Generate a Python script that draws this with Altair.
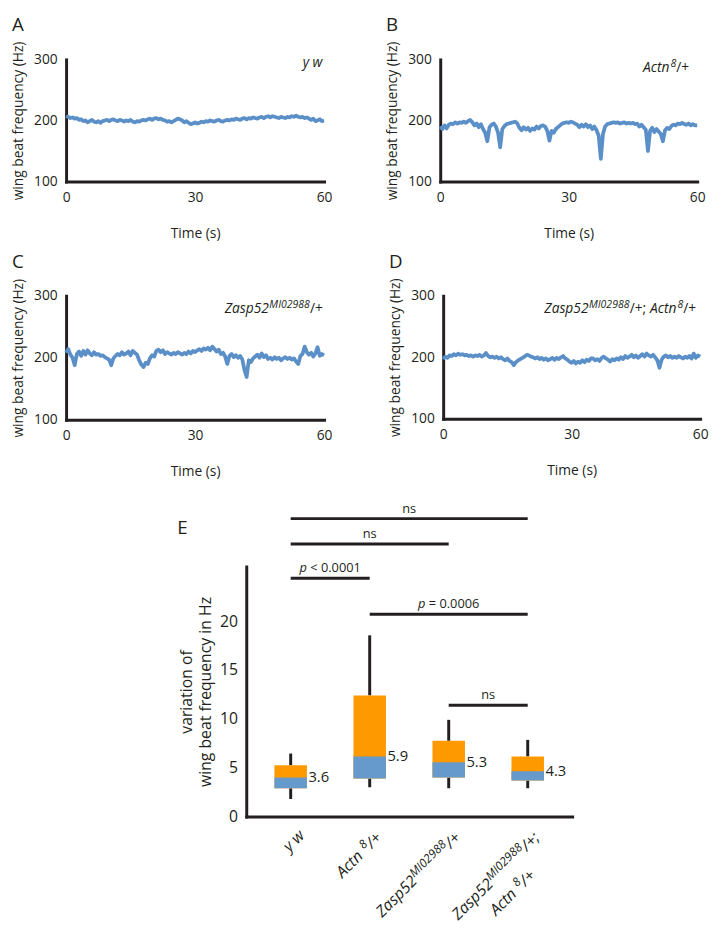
import altair as alt
import pandas as pd

FONT = "Open Sans"
INK = "#231f20"
LINE_BLUE = "#5b8fc8"
BOX_BLUE = "#6699cc"
BOX_ORANGE = "#ff9900"

# ---------------- traces (panels A-D) ----------------
TIME_S = [i * 0.5 for i in range(121)]

FREQ_YW = [
    207, 206, 204, 205, 203, 204, 201, 202, 199, 200,
    197, 199, 201, 198, 197, 199, 196, 199, 200, 201,
    199, 201, 202, 200, 199, 201, 200, 198, 200, 199,
    201, 198, 197, 199, 198, 200, 201, 200, 202, 203,
    201, 203, 204, 202, 203, 201, 200, 198, 199, 197,
    199, 201, 203, 202, 200, 197, 199, 196, 194, 195,
    197, 195, 196, 198, 197, 199, 198, 200, 199, 198,
    200, 201, 199, 198, 200, 201, 200, 202, 201, 203,
    202, 201, 203, 204, 202, 204, 203, 205, 204, 203,
    205, 206, 204, 206, 207, 205, 207, 206, 205, 204,
    206, 205, 204, 206, 205, 207, 206, 208, 206, 205,
    206, 204, 205, 203, 201, 203, 199, 200, 202, 199,
    200,
]

FREQ_ACTN = [
    190, 186, 192, 187, 193, 195, 194, 197, 195, 197,
    196, 198, 196, 199, 201, 197, 192, 195, 189, 194,
    186, 180, 166, 189, 193, 195, 190, 180, 156, 186,
    191, 194, 195, 196, 197, 198, 195, 188, 184, 189,
    185, 188, 183, 187, 185, 190, 187, 191, 192, 190,
    183, 167, 183, 180, 186, 189, 192, 195, 196, 197,
    196, 198, 197, 195, 193, 189, 193, 190, 194, 189,
    192, 186, 190, 184, 175, 137, 178, 190, 194, 195,
    196, 197, 196, 197, 195, 196, 197, 195, 196, 195,
    196, 194, 195, 190, 193, 189, 185, 150, 183, 188,
    181, 186, 182, 178, 166, 184, 188, 186, 191, 193,
    192, 195, 194, 196, 194, 193, 195, 192, 194, 192,
    192,
]

FREQ_ZASP = [
    208, 214, 205, 200, 188, 206, 210, 203, 211, 205,
    212, 207, 204, 209, 205, 206, 203, 204, 201, 199,
    197, 188, 199, 203, 206, 204, 209, 205, 207, 210,
    204, 211, 208, 205, 196, 189, 185, 192, 190, 199,
    204, 202, 211, 213, 209, 212, 206, 209, 207, 205,
    208, 206, 209, 207, 205, 208, 206, 210, 207, 211,
    209, 212, 214, 211, 215, 213, 216, 212, 218, 214,
    210, 213, 206, 208, 202, 190, 203, 206, 201, 204,
    200, 203, 197, 180, 169, 196, 193, 199, 202, 205,
    200, 207, 201, 204, 198, 200, 197, 201, 198, 200,
    196, 199, 201, 198, 200, 197, 199, 194, 190, 203,
    206, 218, 209, 205, 208, 202, 207, 217, 203, 206,
    204,
]

FREQ_ZASP_ACTN = [
    197, 201, 199, 203, 202, 205, 203, 206, 204, 205,
    203, 204, 202, 203, 201, 203, 202, 204, 201, 203,
    207, 202, 200, 201, 199, 201, 198, 200, 197, 195,
    198, 194, 192, 187, 192, 195, 197, 199, 201, 204,
    203, 201, 200, 198, 200, 197, 199, 196, 198, 195,
    197, 199, 196, 199, 197, 200, 202, 198, 196, 193,
    191, 194, 190, 193, 191, 195, 192, 196, 194, 198,
    198, 195, 197, 194, 199, 201, 198, 196, 193, 197,
    195, 198, 196, 200, 197, 202, 199, 201, 204, 200,
    203, 199, 202, 205, 201, 206, 203, 201, 204, 200,
    195, 183, 196, 201, 203, 200, 202, 199, 201, 199,
    202, 200, 198, 201, 199, 202, 198, 206, 199, 203,
    201,
]

TIME_TICKS = [0, 30, 60]
FREQ_TICKS = [100, 200, 300]
PANEL_LETTERS = ["A", "B", "C", "D"]
# genotype labels: (text, style) with style it = italic, sup = superscript, rm = upright
PANEL_GENOTYPES = [
    [("y w", "it")],
    [("Actn", "it"), ("8", "sup"), ("/+", "rm")],
    [("Zasp52", "it"), ("MI02988", "sup"), ("/+", "rm")],
    [("Zasp52", "it"), ("MI02988", "sup"), ("/+; ", "rm"), ("Actn", "it"), ("8", "sup"), ("/+", "rm")],
]

# ---------------- panel E ----------------
CATEGORY_LABELS = [
    [[("y w", "it")]],
    [[("Actn ", "it"), ("8", "sup"), (" /+", "it")]],
    [[("Zasp52", "it"), ("MI02988", "sup"), (" /+", "it")]],
    [[("Zasp52", "it"), ("MI02988", "sup"), (" /+;", "it")],
     [("Actn ", "it"), ("8", "sup"), (" /+", "it")]],
]
WHISKER_LOW = [1.8, 3.0, 2.9, 2.9]
BOX_Q1 = [2.9, 3.9, 4.0, 3.7]
BOX_MEDIAN = [4.0, 6.15, 5.55, 4.65]
BOX_Q3 = [5.25, 12.4, 7.75, 6.15]
WHISKER_HIGH = [6.45, 18.55, 9.9, 7.85]
MEDIAN_LABELS = ["3.6", "5.9", "5.3", "4.3"]
E_TICKS = [0, 5, 10, 15, 20]

SIG_FROM = [0, 0, 0, 1, 2]
SIG_TO = [3, 2, 1, 3, 3]
SIG_LEVEL = [30.5, 27.9, 24.4, 20.7, 11.4]
SIG_TEXT = ["ns", "ns", "p < 0.0001", "p = 0.0006", "ns"]

# approximate Open Sans advance widths (em) used only to place text pieces
ADV = {' ': 0.26, '/': 0.37, '+': 0.572, ';': 0.27, '.': 0.266, '<': 0.572, '=': 0.572,
       'A': 0.633, 'I': 0.297, 'M': 0.89, 'Z': 0.576, 'a': 0.556, 'c': 0.478, 'n': 0.614,
       'p': 0.613, 's': 0.487, 't': 0.351, 'w': 0.78, 'y': 0.5}


def text_width(s, size, italic):
    return sum(ADV.get(c, 0.572) for c in s) * size * (0.96 if italic else 1.0)


def piece_props(style, base):
    if style == "sup":
        return base * 0.76, "italic", base * 0.36
    if style == "it":
        return base, "italic", 0.0
    return base, "normal", 0.0


def line_width(parts, base):
    tot = 0.0
    for s, st in parts:
        size, fs, _ = piece_props(st, base)
        tot += text_width(s, size, fs == "italic")
    return tot


def trace_panel(values, genotype, letter, w, h, right_dx, base_dy):
    df = pd.DataFrame({"t": TIME_S, "f": values})
    line = alt.Chart(df).mark_line(
        color=LINE_BLUE, strokeWidth=3.8, strokeJoin="round"
    ).encode(
        x=alt.X("t:Q", scale=alt.Scale(domain=[0, 60], nice=False, zero=False),
                axis=alt.Axis(values=TIME_TICKS, title="Time (s)", labelFontSize=14,
                              titleFontSize=14, labelPadding=9, titlePadding=23)),
        y=alt.Y("f:Q", scale=alt.Scale(domain=[100, 300], nice=False, zero=False),
                axis=alt.Axis(values=FREQ_TICKS, title="wing beat frequency (Hz)",
                              labelFontSize=14, titleFontSize=14, labelPadding=9,
                              titlePadding=8)),
    )
    layers = [line]
    base = 14
    x0 = w + right_dx - line_width(genotype, base)
    for s, st in genotype:
        size, fs, raise_ = piece_props(st, base)
        layers.append(
            alt.Chart(pd.DataFrame({"g": [s]})).mark_text(
                align="left", baseline="alphabetic", fontStyle=fs, fontSize=size,
                dx=x0 - w, dy=base_dy - raise_
            ).encode(x=alt.value(w), y=alt.value(0), text="g:N")
        )
        x0 += text_width(s, size, fs == "italic")
    return alt.layer(*layers).properties(
        width=w, height=h,
        title=alt.TitleParams(letter, anchor="start", frame="bounds", fontSize=19,
                              fontWeight="normal", offset=6),
    )


pA = trace_panel(FREQ_YW, PANEL_GENOTYPES[0], PANEL_LETTERS[0], 262, 124, -1, 8)
pB = trace_panel(FREQ_ACTN, PANEL_GENOTYPES[1], PANEL_LETTERS[1], 261, 124, -8, 13)
pC = trace_panel(FREQ_ZASP, PANEL_GENOTYPES[2], PANEL_LETTERS[2], 262, 126, -1, 18)
pD = trace_panel(FREQ_ZASP_ACTN, PANEL_GENOTYPES[3], PANEL_LETTERS[3], 261, 125, -4, 18)

# ----- E chart -----
EW, EH = 331, 254
box_df = pd.DataFrame({
    "pos": list(range(len(CATEGORY_LABELS))),
    "lo": WHISKER_LOW, "q1": BOX_Q1, "med": BOX_MEDIAN, "q3": BOX_Q3,
    "hi": WHISKER_HIGH, "mlab": MEDIAN_LABELS,
})
sig_df = pd.DataFrame({"x1": SIG_FROM, "x2": SIG_TO, "y": SIG_LEVEL, "text": SIG_TEXT})
sig_df["mid"] = (sig_df["x1"] + sig_df["x2"]) / 2

xs = alt.Scale(domain=[-0.5, 3.5], nice=False, zero=False)
ys = alt.Scale(domain=[0, 25.6], nice=False, zero=False)
x_axis = alt.Axis(labels=False, ticks=False, grid=False, title=None)
y_axis = alt.Axis(values=E_TICKS, title=["variation of", "wing beat frequency in Hz"],
                  labelFontSize=16, titleFontSize=16, titleLineHeight=19,
                  labelPadding=9, titlePadding=6)


def EX(field):
    return alt.X(field, type="quantitative", scale=xs, axis=x_axis)


def EY(field):
    return alt.Y(field, type="quantitative", scale=ys, axis=y_axis)


base = alt.Chart(box_df)
e_layers = [
    base.mark_rule(color=INK, strokeWidth=3).encode(x=EX("pos"), y=EY("lo"), y2="q1"),
    base.mark_rule(color=INK, strokeWidth=3).encode(x=EX("pos"), y=EY("q3"), y2="hi"),
    base.mark_bar(size=33, color=BOX_ORANGE, orient="vertical").encode(
        x=EX("pos"), y=EY("q1"), y2="q3"),
    base.mark_bar(size=33, color=BOX_BLUE, orient="vertical").encode(
        x=EX("pos"), y=EY("q1"), y2="med"),
    base.mark_text(align="left", baseline="middle", dx=18, fontSize=15).encode(
        x=EX("pos"), y=EY("med"), text="mlab:N"),
]

# rotated category labels built from pieces (dx/dy act in the rotated frame)
LB = 16
for i, lines in enumerate(CATEGORY_LABELS):
    w1 = line_width(lines[0], LB)
    center1 = -3 - w1 / 2
    for j, parts in enumerate(lines):
        lw = line_width(parts, LB)
        u = -3 - w1 if j == 0 else center1 - lw / 2
        v = 25 + 24 * j
        for s, st in parts:
            size, fs, raise_ = piece_props(st, LB)
            e_layers.append(
                alt.Chart(pd.DataFrame({"pos": [i], "t": [s]})).mark_text(
                    angle=315, align="left", baseline="alphabetic", fontSize=size,
                    fontStyle=fs, dx=u, dy=v - raise_
                ).encode(x=EX("pos"), y=alt.value(EH), text="t:N")
            )
            u += text_width(s, size, fs == "italic")

sig = alt.Chart(sig_df)
e_layers.append(sig.mark_rule(color=INK, strokeWidth=3).encode(x=EX("x1"), x2="x2", y=EY("y")))
e_layers.append(sig.transform_filter("datum.text == 'ns'").mark_text(
    baseline="alphabetic", dy=-6, fontSize=13).encode(x=EX("mid"), y=EY("y"), text="text:N"))
SB = 13
for k, txt in enumerate(SIG_TEXT):
    if txt == "ns":
        continue
    head, tail = txt.split(" ", 1)
    wh = text_width(head, SB, True)
    wsp = text_width(" ", SB, False)
    wt = text_width(tail, SB, False)
    start = -(wh + wsp + wt) / 2
    row = sig_df.iloc[[k]]
    e_layers.append(alt.Chart(row.assign(h=head)).mark_text(
        align="left", baseline="alphabetic", dx=start, dy=-6, fontSize=SB,
        fontStyle="italic").encode(x=EX("mid"), y=EY("y"), text="h:N"))
    e_layers.append(alt.Chart(row.assign(r=tail)).mark_text(
        align="left", baseline="alphabetic", dx=start + wh + wsp, dy=-6,
        fontSize=SB).encode(x=EX("mid"), y=EY("y"), text="r:N"))

e_layers.append(alt.Chart(pd.DataFrame({"t": ["E"]})).mark_text(
    align="left", baseline="alphabetic", fontSize=19).encode(
    x=alt.value(-70), y=alt.value(-33), text="t:N"))

pE = alt.layer(*e_layers).properties(width=EW, height=EH)

spacer = alt.Chart(pd.DataFrame({"a": [0]})).mark_text().encode(
    x=alt.value(0), y=alt.value(0), text=alt.value(" ")).properties(width=111, height=1)

row1 = alt.hconcat(pA, pB, spacing=53)
row2 = alt.hconcat(pC, pD, spacing=56)
row3 = alt.hconcat(spacer, pE, spacing=0)

chart = alt.vconcat(alt.vconcat(row1, row2, spacing=11), row3, spacing=22).properties(
    padding={"left": 3, "top": 0, "right": 0, "bottom": 0}
).configure(font=FONT).configure_view(stroke="transparent").configure_axis(
    domainColor=INK, domainWidth=3, domainCap="square", ticks=False, grid=False,
    labelColor=INK, titleColor=INK, labelFont=FONT, titleFont=FONT,
    titleFontWeight="normal", labelFlush=False
).configure_text(font=FONT, color=INK).configure_title(
    font=FONT, fontWeight="normal", color=INK)

chart.save("out.html", embed_options={"renderer": "svg", "actions": False})
